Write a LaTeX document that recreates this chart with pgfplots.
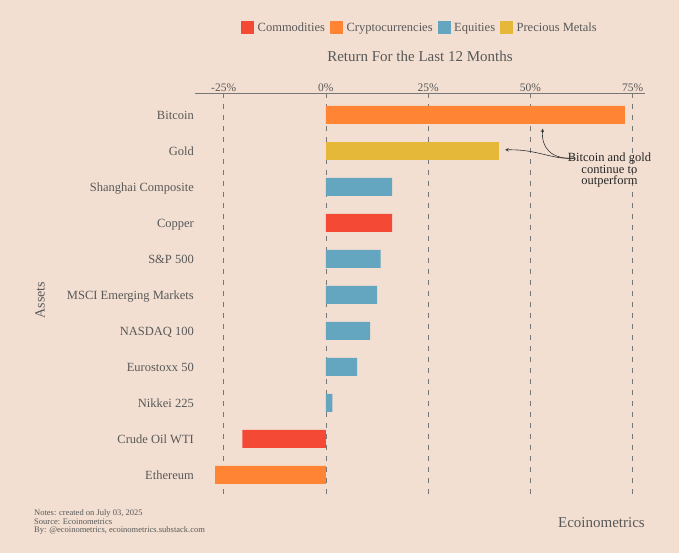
\documentclass[border=0pt]{standalone}
\usepackage{pgfplots}
\pgfplotsset{compat=1.18}
\usepackage{fontspec}
\setmainfont{Liberation Serif}
\definecolor{bg}{HTML}{F2DFD1}
\definecolor{txt}{HTML}{585858}
\definecolor{comm}{HTML}{F44A35}
\definecolor{crypto}{HTML}{FF8535}
\definecolor{equi}{HTML}{64A6BF}
\definecolor{metal}{HTML}{E6B839}
\definecolor{gridc}{HTML}{777777}
\begin{document}
\begin{tikzpicture}[x=1pt,y=1pt]
\fill[bg] (0,0) rectangle (679,553);
\begin{axis}[
  at={(195pt,58pt)}, anchor=south west,
  scale only axis, width=450pt, height=402pt,
  xmin=-32, xmax=78,
  ymin=-0.61, ymax=10.56, y dir=reverse,
  axis x line=top,
  axis y line=left,
  y axis line style={draw=none},
  x axis line style={draw=gridc, line width=0.8pt, -},
  xtick={-25,0,25,50,75},
  xticklabels={-25\%,0\%,25\%,50\%,75\%},
  xticklabel style={font=\fontsize{11.5}{12}\selectfont, text=txt},
  xtick style={draw=none},
  ytick={0,...,10},
  yticklabels={Bitcoin,Gold,Shanghai Composite,Copper,S\&P 500,MSCI Emerging Markets,NASDAQ 100,Eurostoxx 50,Nikkei 225,Crude Oil WTI,Ethereum},
  yticklabel style={font=\fontsize{12.5}{13}\selectfont, text=txt, text height=10pt, text depth=1pt},
  ytick style={draw=none},
  major tick length=0pt,
  tick label style={inner sep=1pt},
  xmajorgrids,
  major grid style={draw=gridc, line width=0.8pt, dash pattern=on 5pt off 6pt},
  xbar, bar width=18pt, bar shift=0pt,
  legend columns=4,
  legend style={at={(0.5,1.162)}, anchor=center, draw=none, fill=none,
    font=\fontsize{12.5}{13}\selectfont, text=txt,
    /tikz/every odd column/.append style={column sep=1.5pt},
    /tikz/every even column/.append style={column sep=3pt}},
  legend image code/.code={\fill[#1] (0pt,-6.5pt) rectangle (13pt,6.5pt);},
  clip=false,
]
\addplot[fill=comm, draw=none] coordinates {(16.2,3) (-20.4,9)};
\addlegendentry{Commodities}
\addplot[fill=crypto, draw=none] coordinates {(73.1,0) (-27.1,10)};
\addlegendentry{Cryptocurrencies}
\addplot[fill=equi, draw=none] coordinates {(16.2,2) (13.4,4) (12.5,5) (10.8,6) (7.6,7) (1.6,8)};
\addlegendentry{Equities}
\addplot[fill=metal, draw=none] coordinates {(42.3,1)};
\addlegendentry{Precious Metals}
\node[font=\fontsize{15}{16}\selectfont, text=txt] at (axis description cs:0.5,1.092) {Return For the Last 12 Months};
\node[font=\fontsize{12.5}{11.5}\selectfont, align=center, text=black!85] at (axis cs:69.3,1.53) {Bitcoin and gold\\continue to\\outperform};
\draw[-stealth, black!80, line width=0.6pt] (axis cs:60.8,1.2) .. controls (axis cs:55,1.25) and (axis cs:52.6,0.9) .. (axis cs:53.0,0.38);
\draw[-stealth, black!80, line width=0.6pt] (axis cs:60.8,1.2) .. controls (axis cs:55,1.25) and (axis cs:52,0.95) .. (axis cs:43.8,0.97);
\end{axis}
\node[rotate=90, font=\fontsize{14}{14}\selectfont, text=txt] at (40,253) {Assets};
\node[anchor=north west, align=left, font=\fontsize{8.5}{8.7}\selectfont, text=txt, inner sep=0pt] at (34,43.5) {Notes: created on July 03, 2025\\Source: Ecoinometrics\\By: @ecoinometrics, ecoinometrics.substack.com};
\node[anchor=east, font=\fontsize{15}{15}\selectfont, text=txt, inner sep=0pt] at (645,30) {Ecoinometrics};
\end{tikzpicture}
\end{document}
